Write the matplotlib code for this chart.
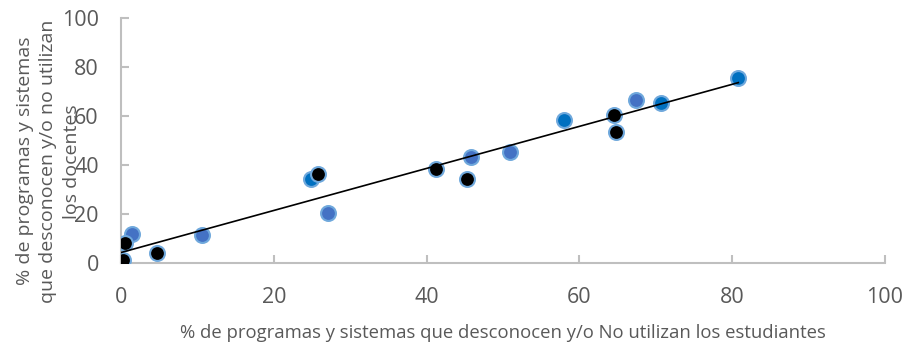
import numpy as np
import matplotlib.pyplot as plt

# blue points (Excel series 1, two shades)
blue_x = [0.0, 1.4, 10.6, 27.1, 45.8, 50.9, 67.4]
blue_y = [0.5, 12.0, 11.4, 20.4, 43.3, 45.3, 66.5]
dark_blue_x = [24.9, 58.0, 70.7, 80.8]
dark_blue_y = [34.3, 58.4, 65.3, 75.5]
# black points
black_x = [0.3, 0.5, 4.7, 25.8, 41.2, 45.3, 64.5, 64.8]
black_y = [1.2, 8.0, 4.0, 36.3, 38.4, 34.3, 60.4, 53.5]

xticks = [0, 20, 40, 60, 80, 100]
yticks = [0, 20, 40, 60, 80, 100]

plt.rcParams['font.family'] = ['Open Sans', 'DejaVu Sans']

fig = plt.figure(figsize=(9.11, 3.43), dpi=100)
ax = fig.add_axes([0.1328, 0.2332, 0.8387, 0.7143])

edge = '#6FA8DC'
ax.scatter(blue_x, blue_y, s=115, c='#4472C4', edgecolors=edge, linewidths=1.5, zorder=3)
ax.scatter(dark_blue_x, dark_blue_y, s=115, c='#0070C0', edgecolors=edge, linewidths=1.5, zorder=3)
ax.scatter(black_x, black_y, s=115, c='black', edgecolors=edge, linewidths=1.5, zorder=4)

# linear trend line over all points
all_x = np.array(blue_x + dark_blue_x + black_x)
all_y = np.array(blue_y + dark_blue_y + black_y)
m, b = np.polyfit(all_x, all_y, 1)
lx = np.array([all_x.min(), all_x.max()])
ax.plot(lx, m * lx + b, color='black', lw=1.2, zorder=5)

ax.set_xlim(0, 100)
ax.set_ylim(0, 100)
ax.set_xticks(xticks)
ax.set_yticks(yticks)
for s in ['top', 'right']:
    ax.spines[s].set_visible(False)
for s in ['left', 'bottom']:
    ax.spines[s].set_color('#BFBFBF')
    ax.spines[s].set_linewidth(1.5)
    ax.spines[s].set_clip_on(False)
ax.tick_params(direction='in', length=6, width=1.5, color='#BFBFBF',
               labelsize=15.5, labelcolor='#595959')
ax.tick_params(axis='y', pad=16)
ax.tick_params(axis='x', pad=17)

ax.set_xlabel('% de programas y sistemas que desconocen y/o No utilizan los estudiantes',
              fontsize=13.3, color='#595959', labelpad=12)
# Excel places the wrapped y title so its last line runs over the tick labels
fig.text(0.053, 0.53, '% de programas y sistemas\nque desconocen y/o no utilizan\nlos docentes',
         rotation=90, ha='center', va='center', fontsize=14, color='#595959',
         linespacing=1.4)

fig.savefig('out.png', dpi=100)
